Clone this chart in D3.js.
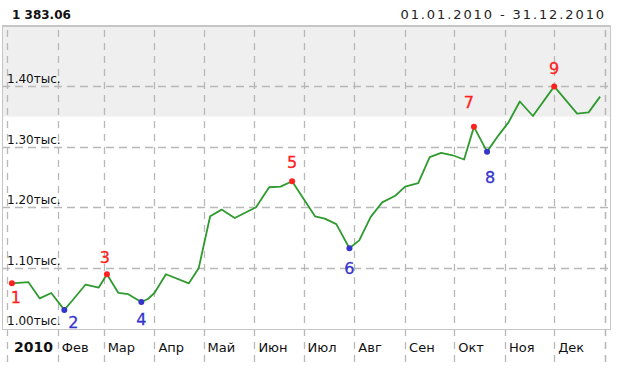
<!DOCTYPE html>
<html>
<head>
<meta charset="utf-8">
<script src="https://cdn.jsdelivr.net/npm/d3@7"></script>
<style>
    body { margin: 0; background: #fff; }
    text { font-family: "DejaVu Sans", Verdana, sans-serif; }
</style>
</head>
<body>
<svg id="chart" width="622" height="377"></svg>
<script>
// series: dates and closing values
const dates = ["2010-01-04","2010-01-14","2010-01-21","2010-01-28","2010-02-05","2010-02-10","2010-02-18","2010-02-26",
    "2010-03-03","2010-03-10","2010-03-16","2010-03-24","2010-03-28","2010-04-01","2010-04-08","2010-04-22",
    "2010-04-28","2010-05-05","2010-05-12","2010-05-20","2010-06-02","2010-06-10","2010-06-17","2010-06-24",
    "2010-07-08","2010-07-14","2010-07-21","2010-07-29","2010-08-04","2010-08-11","2010-08-18","2010-08-26",
    "2010-09-01","2010-09-09","2010-09-16","2010-09-23","2010-09-30","2010-10-07","2010-10-13","2010-10-21",
    "2010-10-28","2010-11-03","2010-11-10","2010-11-18","2010-12-01","2010-12-15","2010-12-22","2010-12-29"];
const values = [1074, 1076, 1049, 1058, 1030, 1046, 1072, 1067,
    1089, 1058, 1056, 1043, 1048, 1058, 1089, 1074,
    1099, 1185, 1196, 1182, 1200, 1233, 1234, 1243,
    1185, 1181, 1172, 1132, 1145, 1184, 1208, 1219,
    1234, 1240, 1283, 1290, 1286, 1279, 1333, 1292,
    1319, 1340, 1375, 1351, 1400, 1355, 1357, 1383.06];

// numbered extremes: index into series, kind (max/min)
const markIdx = [0, 4, 8, 11, 23, 27, 38, 39, 44];
const markKind = ["max","min","max","min","max","min","max","min","max"];
const markOffset = [[4,14],[9,13],[-2,-17],[0,17],[0,-19],[0,20],[-5,-24],[3,26],[0,-18]];

const yTicks = [1000, 1100, 1200, 1300, 1400];
const monthLabels = ["2010","Фев","Мар","Апр","Май","Июн","Июл","Авг","Сен","Окт","Ноя","Дек"];
const lastValue = "1 383.06";
const periodLabel = "01.01.2010 - 31.12.2010";
const bandFrom = 1350;

const parse = d3.timeParse("%Y-%m-%d");
const data = dates.map((d, i) => ({date: parse(d), value: values[i]}));

const svg = d3.select("#chart");
const box = {left: 2, right: 610, top: 26, bottom: 329};

const x = d3.scaleTime()
    .domain([new Date(2010, 0, 1), new Date(2011, 0, 1)])
    .range([7, 605]);
const y = d3.scaleLinear()
    .domain([1000, 1500])
    .range([328, 26]);

// header
svg.append("text").attr("x", 12).attr("y", 19)
    .attr("font-size", 12).attr("font-weight", "bold").attr("fill", "#111")
    .text(lastValue);
svg.append("text").attr("x", 606).attr("y", 19)
    .attr("text-anchor", "end").attr("font-size", 13).attr("letter-spacing", 1.9).attr("fill", "#222")
    .text(periodLabel);

// plot background
svg.append("rect").attr("x", box.left).attr("y", box.top)
    .attr("width", box.right - box.left).attr("height", y(bandFrom) - box.top)
    .attr("fill", "#efefef");

const gridColor = "#b8b8b8";
const months = x.ticks(d3.timeMonth.every(1)).concat([new Date(2011, 0, 1)]);

// vertical grid + axis ticks
svg.append("g").selectAll("line").data(months).join("line")
    .attr("x1", d => Math.round(x(d)) + 0.5).attr("x2", d => Math.round(x(d)) + 0.5)
    .attr("y1", box.top + 4).attr("y2", 362)
    .attr("stroke", gridColor).attr("stroke-width", 1.3).attr("stroke-dasharray", "7,6");

// horizontal grid
svg.append("g").selectAll("line").data(yTicks.slice(1)).join("line")
    .attr("x1", box.left).attr("x2", box.right)
    .attr("y1", d => Math.round(y(d)) + 0.5).attr("y2", d => Math.round(y(d)) + 0.5)
    .attr("stroke", gridColor).attr("stroke-width", 1.3).attr("stroke-dasharray", "8,5");

// border
svg.append("rect").attr("x", box.left + 0.5).attr("y", box.top + 0.5)
    .attr("width", box.right - box.left).attr("height", box.bottom - box.top)
    .attr("fill", "none").attr("stroke", "#c6c6c6");
svg.append("line").attr("x1", box.left).attr("x2", box.right + 1)
    .attr("y1", box.top).attr("y2", box.top)
    .attr("stroke", "#c6c6c6").attr("stroke-width", 2);

// y labels
svg.append("g").selectAll("text").data(yTicks).join("text")
    .attr("x", 7).attr("y", d => y(d) - 3)
    .attr("font-size", 12).attr("fill", "#111")
    .text(d => (d / 1000).toFixed(2) + "тыс.");

// month labels
svg.append("g").selectAll("text").data(months.slice(0, 12)).join("text")
    .attr("x", (d, i) => x(d) + (i === 0 ? 7 : 4)).attr("y", 352)
    .attr("font-size", (d, i) => i === 0 ? 14 : 13)
    .attr("font-weight", (d, i) => i === 0 ? "bold" : "normal")
    .attr("fill", "#111")
    .text((d, i) => monthLabels[i]);

// line
const line = d3.line().x(d => x(d.date)).y(d => y(d.value));
svg.append("path").datum(data)
    .attr("d", line).attr("fill", "none")
    .attr("stroke", "#2f9a2f").attr("stroke-width", 1.8).attr("stroke-linejoin", "round");

// extremes
const colors = {max: "#ff2020", min: "#3535cc"};
const marks = markIdx.map((idx, i) => ({...data[idx], kind: markKind[i], off: markOffset[i], n: i + 1}));

svg.append("g").selectAll("circle").data(marks).join("circle")
    .attr("cx", d => x(d.date)).attr("cy", d => y(d.value))
    .attr("r", 3).attr("fill", d => colors[d.kind]);

svg.append("g").selectAll("text").data(marks).join("text")
    .attr("x", d => x(d.date) + d.off[0]).attr("y", d => y(d.value) + d.off[1])
    .attr("text-anchor", "middle").attr("dominant-baseline", "central")
    .attr("font-size", 16).attr("fill", d => colors[d.kind])
    .attr("stroke", d => colors[d.kind]).attr("stroke-width", 0.3)
    .text(d => d.n);
</script>
</body>
</html>
